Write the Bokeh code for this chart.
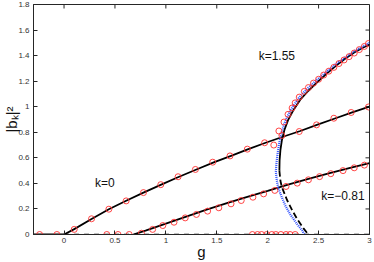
from bokeh.plotting import figure
from bokeh.models import FixedTicker, Label, Range1d
from bokeh.embed import file_html
from bokeh.resources import INLINE

# ---------------- data ----------------
x_ticks = [0, 0.5, 1, 1.5, 2, 2.5, 3]
x_tick_labels = ["0", "0.5", "1", "1.5", "2", "2.5", "3"]
y_ticks = [0, 0.2, 0.4, 0.6, 0.8, 1, 1.2, 1.4, 1.6, 1.8]
y_tick_labels = ["0", "0.2", "0.4", "0.6", "0.8", "1", "1.2", "1.4", "1.6", "1.8"]

# zero solution
zero_solid_g = [-0.3, 0.0]
zero_solid_v = [0.0, 0.0]
zero_dash_g = [0.0, 3.0]
zero_dash_v = [0.0, 0.0]

# k = 0 branch (solid)
k0_g = [0.0, 0.1, 0.27, 0.44, 0.61, 0.78, 0.96, 1.13, 1.30, 1.47, 1.64, 1.81, 1.98,
        2.15, 2.32, 2.49, 2.66, 2.83, 3.0]
k0_v = [0.0, 0.042, 0.122, 0.198, 0.264, 0.328, 0.392, 0.452, 0.509, 0.564, 0.616,
        0.668, 0.718, 0.765, 0.81, 0.86, 0.908, 0.955, 1.0]
k0_circ_g = [-0.24, -0.07, 0.10, 0.27, 0.44, 0.61, 0.78, 0.95, 1.12, 1.29, 1.46, 1.63,
             1.80, 1.97, 2.14, 2.31, 2.48, 2.65, 2.82, 2.99]
k0_circ_v = [0.0, 0.0, 0.04, 0.123, 0.198, 0.263, 0.328, 0.39, 0.452, 0.509, 0.566,
             0.615, 0.668, 0.718, 0.775, 0.806, 0.858, 0.91, 0.955, 0.998]

# k = -0.81 branch (solid)
km_g = [0.68, 0.8, 1.0, 1.2, 1.4, 1.6, 1.8, 2.0, 2.2, 2.4, 2.6, 2.8, 3.0]
km_v = [0.0, 0.03, 0.085, 0.140, 0.195, 0.245, 0.295, 0.342, 0.39, 0.435, 0.478,
        0.519, 0.558]
km_circ_g = [0.42, 0.53, 0.64, 0.76, 0.87, 0.97, 1.08, 1.19, 1.30, 1.41, 1.52, 1.64,
             1.74, 1.855, 1.96, 2.07, 2.18, 2.29, 2.40, 2.51, 2.62, 2.74, 2.85, 2.95]
km_circ_v = [0.0, 0.0, 0.0, 0.01, 0.04, 0.07, 0.096, 0.13, 0.157, 0.183, 0.209, 0.24,
             0.266, 0.292, 0.318, 0.345, 0.376, 0.402, 0.428, 0.453, 0.476, 0.5,
             0.522, 0.543]

# k = 1.55 branch: stable (solid) and unstable (dashed)
kp_up_g = [2.115, 2.117, 2.125, 2.14, 2.165, 2.20, 2.25, 2.32, 2.40, 2.49, 2.58, 2.67,
           2.76, 2.85, 2.93, 3.0]
kp_up_v = [0.50, 0.58, 0.66, 0.74, 0.82, 0.895, 0.97, 1.055, 1.125, 1.195, 1.26,
           1.32, 1.375, 1.425, 1.46, 1.488]
kp_lo_g = [2.115, 2.125, 2.14, 2.16, 2.19, 2.24, 2.29, 2.35, 2.40]
kp_lo_v = [0.50, 0.42, 0.37, 0.33, 0.27, 0.19, 0.12, 0.05, 0.0]

# k = 1.55 numerical curve (blue dotted)
blue_g = [2.36, 2.34, 2.28, 2.22, 2.17, 2.14, 2.105, 2.09, 2.08, 2.085, 2.095, 2.11,
          2.13, 2.16, 2.20, 2.25, 2.32, 2.40, 2.49, 2.58, 2.67, 2.76, 2.85, 2.93, 3.0]
blue_v = [0.0, 0.03, 0.09, 0.16, 0.23, 0.29, 0.36, 0.42, 0.49, 0.55, 0.62, 0.70,
          0.78, 0.86, 0.935, 1.005, 1.085, 1.15, 1.215, 1.275, 1.335, 1.385, 1.435,
          1.47, 1.50]
kp_circ_g = [2.06, 2.11, 2.16, 2.20, 2.24, 2.27, 2.31, 2.36, 2.40, 2.45, 2.50, 2.55,
             2.60, 2.65, 2.70, 2.75, 2.80, 2.85, 2.90, 2.95, 2.99]
kp_circ_v = [0.70, 0.81, 0.88, 0.94, 0.99, 1.03, 1.075, 1.12, 1.15, 1.185, 1.215,
             1.248, 1.278, 1.308, 1.338, 1.366, 1.392, 1.42, 1.447, 1.472, 1.495]
kp_zero_g = [1.85, 1.90, 1.94, 1.99, 2.04, 2.08, 2.13, 2.18, 2.22, 2.27]
kp_zero_v = [0.0] * 10

annotations = [("k=1.55", 2.09, 1.40), ("k=0", 0.40, 0.40), ("k=\u22120.81", 2.74, 0.30)]

x_title = "g"
y_title = "|b\u2096|\u00b2"

# ---------------- figure ----------------
FONT = "Liberation Sans"
AXC = "#262626"
W, H = 374, 262
BL, BR, BT, BB = 33, 5, 4, 28
X0, X1, Y0, Y1 = -0.3, 3.0, 0.0, 1.8
TICK = 4  # px

p = figure(width=W, height=H, x_range=Range1d(X0, X1), y_range=Range1d(Y0, Y1),
           output_backend="svg", toolbar_location=None,
           min_border_left=BL, min_border_right=BR, min_border_top=BT,
           min_border_bottom=BB)
p.grid.visible = False
p.outline_line_color = AXC
p.background_fill_color = "white"
p.border_fill_color = "white"

def style_axis(ax):
    ax.major_tick_in = TICK
    ax.major_tick_out = 0
    ax.minor_tick_line_color = None
    ax.axis_line_color = AXC
    ax.major_tick_line_color = AXC
    ax.major_label_text_font = FONT
    ax.major_label_text_font_size = "8px"
    ax.major_label_text_color = "#333333"
    ax.axis_label_text_font = FONT
    ax.axis_label_text_font_style = "normal"
    ax.axis_label_text_color = "#111111"

xa = p.xaxis[0]
xa.ticker = FixedTicker(ticks=x_ticks)
xa.major_label_overrides = dict(zip(x_ticks, x_tick_labels))
style_axis(xa)
xa.major_label_standoff = 3
xa.axis_label = x_title
xa.axis_label_text_font_size = "15px"
xa.axis_label_standoff = -3

ya = p.yaxis[0]
ya.ticker = FixedTicker(ticks=y_ticks)
ya.major_label_overrides = dict(zip(y_ticks, y_tick_labels))
style_axis(ya)
ya.major_label_standoff = 4
ya.axis_label = y_title
ya.axis_label_text_font_size = "15px"
ya.axis_label_standoff = -5

# mirrored inward ticks on top and right edges of the box
fw = W - BL - BR
fh = H - BT - BB
dy = TICK * (Y1 - Y0) / fh
dx = TICK * (X1 - X0) / fw
p.segment(x0=x_ticks, y0=[Y1] * len(x_ticks), x1=x_ticks, y1=[Y1 - dy] * len(x_ticks),
          line_color=AXC, line_width=1)
p.segment(x0=[X1] * len(y_ticks), y0=y_ticks, x1=[X1 - dx] * len(y_ticks), y1=y_ticks,
          line_color=AXC, line_width=1)

# lines
BLK = "#000000"
p.line(zero_solid_g, zero_solid_v, line_color=BLK, line_width=2)
p.line(zero_dash_g, zero_dash_v, line_color=BLK, line_width=1.5, line_dash="5 5")
p.line(k0_g, k0_v, line_color=BLK, line_width=1.8)
p.line(km_g, km_v, line_color=BLK, line_width=1.8)
p.line(kp_up_g, kp_up_v, line_color=BLK, line_width=1.8)
p.line(kp_lo_g, kp_lo_v, line_color=BLK, line_width=1.8, line_dash="6 3")
p.line(blue_g, blue_v, line_color="#3050ff", line_width=2.2, line_dash="1 1")

# circles
RED = "#ff3030"
for gg, vv in [(k0_circ_g, k0_circ_v), (km_circ_g, km_circ_v),
               (kp_circ_g, kp_circ_v), (kp_zero_g, kp_zero_v)]:
    p.scatter(gg, vv, marker="circle", size=6, fill_color=None,
              line_color=RED, line_width=0.9)

for txt, xx, yy in annotations:
    p.add_layout(Label(x=xx, y=yy, text=txt, text_font=FONT, text_font_size="12px",
                       text_align="center", text_baseline="middle", text_color="#111111"))

open("out.html", "w").write(file_html(p, INLINE))
